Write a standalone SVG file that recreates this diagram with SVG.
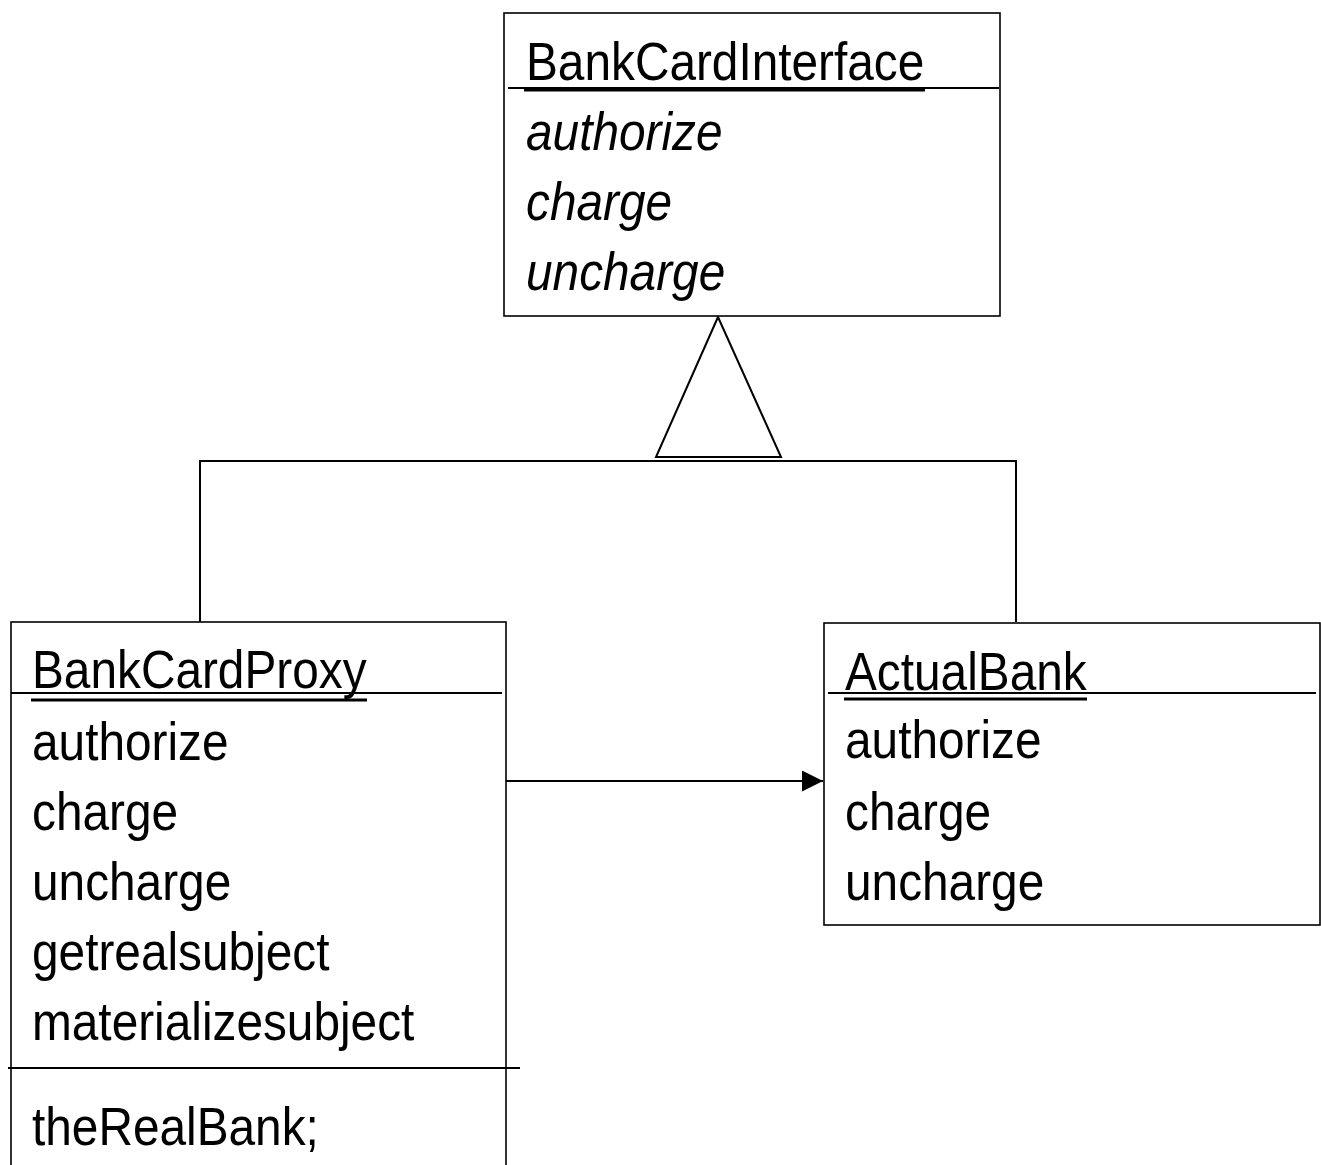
<svg xmlns="http://www.w3.org/2000/svg" width="1321" height="1165" viewBox="0 0 1321 1165">
<style>
.box{fill:#fff;stroke:#000;stroke-width:1.6}
.sep{stroke:#000;stroke-width:2;fill:none}
.ul{stroke:#000;stroke-width:3;fill:none}
.t{font-family:"Liberation Sans",Arial,sans-serif;font-size:54px;fill:#000}
.i{font-style:italic}
.c{stroke:#000;stroke-width:2;fill:none}
</style>
<defs>
<marker id="arr" viewBox="0 0 21 21" refX="21" refY="10.5" markerWidth="21" markerHeight="21" markerUnits="userSpaceOnUse" orient="auto">
<path d="M0,0 L21,10.5 L0,21 Z" fill="#000"/>
</marker>
</defs>
<rect width="1321" height="1165" fill="#fff"/>
<g id="connectors">
<polyline class="c" points="200,622 200,461 1016,461 1016,622"/>
<polygon class="c" points="718,317 656,457 781,457" fill="#fff"/>
<line class="c" x1="505" y1="781" x2="823" y2="781" marker-end="url(#arr)"/>
</g>
<g id="BankCardInterface">
<rect class="box" x="504" y="13" width="496" height="303"/>
<line class="sep" x1="508" y1="88" x2="999" y2="88"/>
<text class="t" transform="translate(526,80) scale(0.885,1)">BankCardInterface</text>
<line class="ul" x1="524" y1="90" x2="925" y2="90"/>
<text class="t i" transform="translate(526,150) scale(0.885,1)">authorize</text>
<text class="t i" transform="translate(526,220) scale(0.885,1)">charge</text>
<text class="t i" transform="translate(526,290) scale(0.885,1)">uncharge</text>
</g>
<g id="BankCardProxy">
<rect class="box" x="11" y="622" width="495" height="570"/>
<line class="sep" x1="11" y1="693" x2="502" y2="693"/>
<text class="t" transform="translate(32,688) scale(0.885,1)">BankCardProxy</text>
<line class="ul" x1="31" y1="700" x2="367" y2="700"/>
<text class="t" transform="translate(32,760) scale(0.885,1)">authorize</text>
<text class="t" transform="translate(32,830) scale(0.885,1)">charge</text>
<text class="t" transform="translate(32,900) scale(0.885,1)">uncharge</text>
<text class="t" transform="translate(32,970) scale(0.885,1)">getrealsubject</text>
<text class="t" transform="translate(32,1040) scale(0.885,1)">materializesubject</text>
<line class="sep" x1="8" y1="1068" x2="520" y2="1068"/>
<text class="t" transform="translate(32,1145) scale(0.885,1)">theRealBank;</text>
</g>
<g id="ActualBank">
<rect class="box" x="824" y="623" width="496" height="302"/>
<line class="sep" x1="828" y1="693" x2="1316" y2="693"/>
<text class="t" transform="translate(845,690) scale(0.885,1)">ActualBank</text>
<line class="ul" x1="844" y1="699" x2="1087" y2="699"/>
<text class="t" transform="translate(845,758) scale(0.885,1)">authorize</text>
<text class="t" transform="translate(845,830) scale(0.885,1)">charge</text>
<text class="t" transform="translate(845,900) scale(0.885,1)">uncharge</text>
</g>
</svg>
